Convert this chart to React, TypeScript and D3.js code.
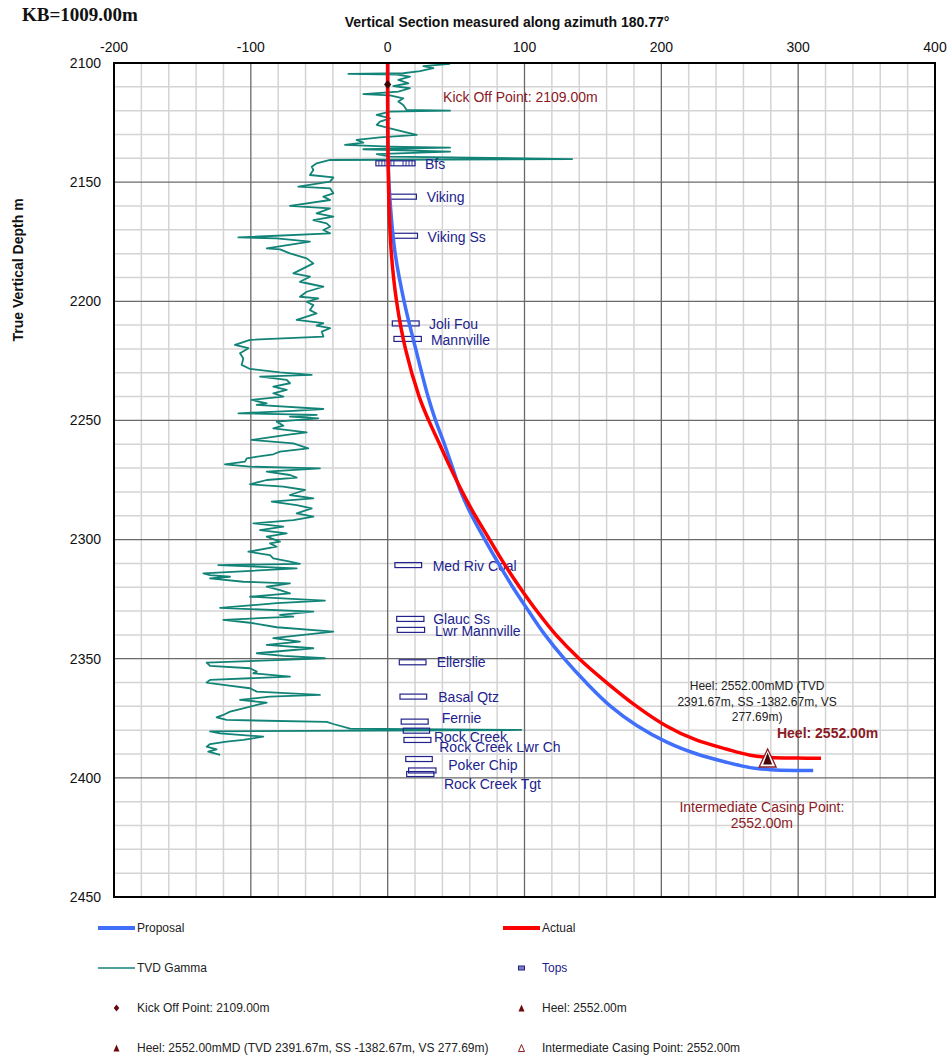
import React from 'react';
import * as d3 from 'd3';

const W = 948;
const H = 1057;

// axis ticks
const vsTicks = [-200, -100, 0, 100, 200, 300, 400];
const tvdTicks = [2100, 2150, 2200, 2250, 2300, 2350, 2400, 2450];

// well paths: [tvd, vs]
const proposalPath: [number, number][] = [
  [2100, 0], [2140, 0.3], [2160, 2], [2180, 5.5], [2200, 12], [2220, 20.5], [2240, 29.5],
  [2250, 35], [2260, 41.5], [2270, 47.5], [2280, 53.5], [2290, 61.5], [2300, 71], [2310, 81],
  [2320, 91.5], [2330, 103], [2340, 115], [2350, 129], [2360, 145], [2370, 163], [2378, 182],
  [2385, 204], [2390, 226], [2393.5, 248], [2395.7, 265], [2396.6, 280], [2396.9, 300], [2396.9, 311],
];
const actualPath: [number, number][] = [
  [2100, 0], [2109, 0], [2140, 0.3], [2160, 1], [2180, 2.7], [2200, 6.5], [2220, 13], [2240, 23],
  [2250, 30], [2260, 38], [2270, 46], [2280, 54.5], [2290, 64], [2300, 74.5], [2310, 85],
  [2320, 96.5], [2330, 109], [2340, 123], [2350, 140], [2360, 160], [2370, 182], [2378, 203],
  [2384, 225], [2388, 248], [2390.5, 265], [2391.5, 280], [2391.7, 300], [2391.8, 316.7],
];

// TVD gamma trace: [tvd, scaled value]
const gammaTrace: [number, number][] = [
  [2100.4, 45.6], [2101.3, 26.1], [2102.2, 33.4], [2103.4, 23.6], [2104.3, 11.4], [2104.6, -28.7],
  [2104.9, 6.6], [2105.7, 16.3], [2107.1, 7.8], [2108.5, 15.1], [2109.7, 4.1], [2110.6, 16.3],
  [2112.0, 7.8], [2113.1, -17.8], [2113.6, 1.7], [2114.8, 11.4], [2116.2, 7.8], [2117.6, 11.4],
  [2119.7, 13.9], [2120.0, 45.6], [2120.4, 1.7], [2121.8, -8.0], [2123.2, 1.7], [2124.6, -5.6],
  [2126.0, -8.0], [2127.4, 1.7], [2128.8, 11.4], [2130.2, 21.2], [2131.2, -5.6], [2132.3, -22.7],
  [2133.4, -17.8], [2134.4, -31.2], [2135.1, 1.7], [2135.5, 45.6], [2136.2, -17.8], [2137.2, 45.6],
  [2138.2, -8.0], [2139.3, 1.7], [2140.3, 134.8], [2140.7, -42.1], [2142.1, -51.9], [2143.5, -55.5],
  [2144.9, -54.3], [2147.0, -56.8], [2148.0, -39.7], [2149.8, -42.1], [2151.9, -65.3], [2152.6, -42.1],
  [2154.7, -39.7], [2156.1, -47.0], [2157.5, -42.1], [2160.0, -71.4], [2161.0, -42.1], [2163.1, -51.9],
  [2164.5, -39.7], [2165.9, -54.3], [2167.3, -44.6], [2168.7, -42.1], [2170.1, -47.0], [2171.5, -42.1],
  [2173.2, -109.1], [2173.6, -81.1], [2175.0, -56.8], [2177.8, -88.4], [2178.2, -78.7], [2179.9, -71.4],
  [2182.0, -59.2], [2184.1, -54.3], [2186.2, -61.6], [2188.3, -68.9], [2189.7, -56.8], [2191.8, -64.1],
  [2193.9, -47.0], [2196.0, -59.2], [2198.1, -64.1], [2198.8, -50.7], [2200.2, -59.2], [2201.6, -54.3],
  [2203.7, -56.8], [2205.1, -51.9], [2207.8, -66.5], [2209.2, -47.0], [2210.2, -51.9], [2211.3, -42.1],
  [2212.7, -48.2], [2214.8, -47.0], [2216.2, -100.6], [2218.3, -111.6], [2219.7, -101.8], [2221.8, -107.9],
  [2224.0, -105.5], [2226.7, -106.7], [2228.4, -100.6], [2229.8, -78.7], [2230.9, -55.5], [2231.6, -93.3],
  [2233.0, -73.8], [2234.4, -71.4], [2235.8, -83.6], [2237.2, -73.8], [2238.6, -83.6], [2240.0, -76.2],
  [2241.4, -99.4], [2242.8, -88.4], [2243.5, -95.7], [2245.2, -47.0], [2246.0, -68.9], [2247.0, -109.1],
  [2247.7, -51.9], [2248.4, -71.4], [2249.1, -50.7], [2250.5, -81.1], [2252.2, -76.2], [2253.3, -83.6],
  [2255.0, -59.2], [2256.1, -73.8], [2258.2, -99.4], [2259.6, -68.9], [2261.7, -58.0], [2263.1, -78.7],
  [2264.2, -83.6], [2265.9, -103.0], [2267.3, -104.3], [2268.4, -118.9], [2269.4, -100.6], [2270.1, -49.5],
  [2271.5, -88.4], [2272.9, -71.4], [2274.0, -66.5], [2275.0, -88.4], [2276.8, -100.6], [2277.8, -76.2],
  [2279.2, -60.4], [2281.3, -71.4], [2282.7, -54.3], [2284.1, -84.8], [2285.5, -66.5], [2286.9, -55.5],
  [2289.0, -66.5], [2290.4, -54.3], [2291.8, -68.9], [2293.2, -98.2], [2294.6, -76.2], [2296.0, -93.3],
  [2297.4, -73.8], [2298.8, -88.4], [2300.9, -78.7], [2301.6, -86.0], [2303.0, -81.1], [2305.1, -101.8],
  [2306.5, -86.0], [2307.9, -83.6], [2309.3, -71.4], [2310.2, -64.1], [2310.7, -123.8], [2312.1, -66.5],
  [2314.2, -134.7], [2314.9, -129.8], [2315.6, -115.2], [2316.3, -129.8], [2317.7, -105.5], [2318.4, -71.4],
  [2319.8, -88.4], [2321.2, -78.7], [2322.6, -71.4], [2324.0, -100.6], [2325.6, -45.8], [2326.7, -81.1],
  [2328.7, -122.5], [2330.2, -54.3], [2331.6, -78.7], [2332.3, -68.9], [2333.7, -120.1], [2334.9, -100.6],
  [2336.8, -81.1], [2338.6, -39.7], [2340.0, -61.6], [2341.4, -83.6], [2342.8, -64.1], [2344.2, -88.4],
  [2345.6, -54.3], [2347.7, -95.7], [2348.8, -76.2], [2349.8, -45.8], [2350.5, -76.2], [2351.6, -132.3],
  [2353.0, -129.8], [2354.0, -100.6], [2355.4, -95.7], [2356.1, -98.2], [2357.5, -71.4], [2358.9, -129.8],
  [2360.0, -132.3], [2361.0, -120.1], [2362.4, -100.6], [2363.8, -95.7], [2365.2, -49.5], [2365.9, -86.0],
  [2367.3, -107.9], [2368.4, -88.4], [2369.4, -95.7], [2370.8, -105.5], [2372.2, -115.2], [2373.6, -120.1],
  [2374.6, -125.0], [2375.7, -117.7], [2376.5, -44.6], [2377.4, -39.7], [2379.3, -27.5], [2379.9, 97.7],
  [2380.5, -129.8], [2381.3, -122.5], [2382.7, -90.9], [2384.1, -105.5], [2384.8, -117.7], [2385.8, -129.8],
  [2386.9, -132.3], [2388.0, -125.0], [2389.0, -131.1], [2390.4, -122.5],
];

// formation tops
const topNames = ['Bfs', 'Viking', 'Viking Ss', 'Joli Fou', 'Mannville', 'Med Riv Coal', 'Glauc Ss',
  'Lwr Mannville', 'Ellerslie', 'Basal Qtz', 'Fernie', 'Rock Creek', 'Rock Creek Lwr Ch', 'Poker Chip',
  '', 'Rock Creek Tgt'];
const topTvd = [2142.1, 2156.1, 2172.5, 2209.3, 2215.8, 2310.7, 2333.3, 2337.9, 2351.5, 2365.9, 2376.4,
  2380.2, 2384.1, 2392.1, 2396.9, 2398.4];
const topVsFrom = [-8.6, 1.2, 1.7, 3.4, 4.6, 5.3, 6.6, 7.0, 8.5, 9.0, 9.9, 11.4, 11.9, 13.2, 15.3, 13.9];
const topVsTo = [20, 21, 21.8, 23, 24.6, 24.8, 26.5, 27, 28, 28.5, 29.6, 30.6, 31.6, 32.6, 35.3, 33.8];
const topLabelVs = [27.3, 28.5, 29.2, 30.2, 31.6, 32.9, 33.3, 34.6, 35.8, 37.0, 39.5, 33.8, 37.7, 44.3, 0, 41.1];
const topLabelTvd = [2142.4, 2156.2, 2173.0, 2209.5, 2216.2, 2311.1, 2333.3, 2338.4, 2351.4, 2366.1, 2374.9,
  2382.9, 2387.1, 2394.6, 0, 2402.6];

const kickOff = { tvd: 2109, vs: 0, label: 'Kick Off Point: 2109.00m' };
const heel = { tvd: 2391.67, vs: 277.69 };
const heelNote = ['Heel: 2552.00mMD (TVD', '2391.67m, SS -1382.67m, VS', '277.69m)'];
const casingNote = ['Intermediate Casing Point:', '2552.00m'];

const legendLabels = ['Proposal', 'Actual', 'TVD Gamma', 'Tops', 'Kick Off Point: 2109.00m', 'Heel: 2552.00m',
  'Heel: 2552.00mMD (TVD 2391.67m, SS -1382.67m, VS 277.69m)', 'Intermediate Casing Point: 2552.00m'];
const legendKinds = ['proposal', 'actual', 'gamma', 'tops', 'kickoff', 'heel', 'heelmd', 'casing'];

const RED = '#ff0000';
const BLUE = '#3f6ffb';
const TEAL = '#128377';
const NAVY = '#22228c';
const DARKRED = '#8b1a24';
const FONT = '"Liberation Sans", Arial, sans-serif';

const tri = (cx: number, cy: number, w: number, h: number) =>
  `M${cx},${cy - h / 2}L${cx + w / 2},${cy + h / 2}L${cx - w / 2},${cy + h / 2}Z`;
const diamond = (cx: number, cy: number, r: number) =>
  `M${cx},${cy - r}L${cx + r * 0.8},${cy}L${cx},${cy + r}L${cx - r * 0.8},${cy}Z`;

export default function App() {
  const x = d3.scaleLinear().domain([-200, 400]).range([114, 935]);
  const y = d3.scaleLinear().domain([2100, 2450]).range([63, 897]);

  const wellLine = d3.line<[number, number]>()
    .x(d => x(d[1]))
    .y(d => y(d[0]))
    .curve(d3.curveCatmullRom.alpha(0.5));
  const gammaLine = d3.line<[number, number]>()
    .x(d => x(d[1]))
    .y(d => y(d[0]));

  const minorX = d3.range(-200, 401, 20).filter(v => v % 100 !== 0);
  const minorY = d3.range(2100, 2451, 10).filter(v => v % 50 !== 0);

  const [x0, x1] = x.range();
  const [y0, y1] = y.range();

  const hx = x(heel.vs);
  const hy = y(heel.tvd);

  const legendRows = [928, 968, 1008, 1048];
  const legendCols = [98, 503];

  const legendMark = (kind: string, lx: number, ly: number) => {
    switch (kind) {
      case 'proposal':
        return <line x1={lx} x2={lx + 37} y1={ly} y2={ly} stroke={BLUE} strokeWidth={4} />;
      case 'actual':
        return <line x1={lx} x2={lx + 37} y1={ly} y2={ly} stroke={RED} strokeWidth={4} />;
      case 'gamma':
        return <line x1={lx} x2={lx + 37} y1={ly} y2={ly} stroke={TEAL} strokeWidth={1.6} />;
      case 'tops':
        return <rect x={lx + 15.5} y={ly - 2} width={6} height={4} fill="#8080c0" stroke={NAVY} strokeWidth={1} />;
      case 'kickoff':
        return <path d={diamond(lx + 18.5, ly, 3.5)} fill="#6a0a0a" />;
      case 'heel':
      case 'heelmd':
        return <path d={tri(lx + 18.5, ly, 6, 7)} fill="#6a0a0a" />;
      default:
        return <path d={tri(lx + 18.5, ly, 6, 7)} fill="none" stroke={DARKRED} strokeWidth={1} />;
    }
  };

  return (
    <svg width={W} height={H} style={{ position: 'absolute', left: 0, top: 0, background: '#fff' }}
      fontFamily={FONT}>
      <rect x={0} y={0} width={W} height={H} fill="#fff" />

      {/* grid */}
      <g>
        {minorX.map(v => (
          <line key={'mx' + v} x1={x(v)} x2={x(v)} y1={y0} y2={y1} stroke="#d4d4d4" strokeWidth={1.5} />
        ))}
        {minorY.map(v => (
          <line key={'my' + v} x1={x0} x2={x1} y1={y(v)} y2={y(v)} stroke="#d4d4d4" strokeWidth={1.5} />
        ))}
        {vsTicks.map(v => (
          <line key={'Mx' + v} x1={x(v)} x2={x(v)} y1={y0} y2={y1} stroke="#6a6a6a" strokeWidth={1.3} />
        ))}
        {tvdTicks.map(v => (
          <line key={'My' + v} x1={x0} x2={x1} y1={y(v)} y2={y(v)} stroke="#6a6a6a" strokeWidth={1.3} />
        ))}
      </g>

      {/* gamma log */}
      <path d={gammaLine(gammaTrace) || ''} fill="none" stroke={TEAL} strokeWidth={1.8} strokeLinejoin="round" />

      {/* formation tops */}
      <g>
        {topNames.map((name, i) => {
          const rx = x(topVsFrom[i]);
          const rw = x(topVsTo[i]) - rx;
          const ry = y(topTvd[i]);
          return (
            <g key={'top' + i}>
              <rect x={rx} y={ry - 2.5} width={rw} height={5} fill="none" stroke={NAVY} strokeWidth={1.2} />
              {i === 0 && d3.range(0, 6).map(k => (
                <line key={'h' + k} x1={rx + 3 + k * 3} x2={rx + 3 + k * 3} y1={ry - 2.5} y2={ry + 2.5}
                  stroke={NAVY} strokeWidth={0.9} />
              ))}
              {i === 0 && d3.range(0, 4).map(k => (
                <line key={'g' + k} x1={rx + rw - 3 - k * 3} x2={rx + rw - 3 - k * 3} y1={ry - 2.5} y2={ry + 2.5}
                  stroke={NAVY} strokeWidth={0.9} />
              ))}
              {name && (
                <text x={x(topLabelVs[i])} y={y(topLabelTvd[i])} dy="0.35em" fontSize={14} fill={NAVY}>{name}</text>
              )}
            </g>
          );
        })}
      </g>

      {/* well paths */}
      <path d={wellLine(proposalPath) || ''} fill="none" stroke={BLUE} strokeWidth={3.5} />
      <path d={wellLine(actualPath) || ''} fill="none" stroke={RED} strokeWidth={3.5} />

      {/* kick off */}
      <path d={diamond(x(kickOff.vs), y(kickOff.tvd), 4.5)} fill="#3a0505" />
      <text x={x(40.5)} y={y(2114.3)} dy="0.35em" fontSize={14} fill={DARKRED}>{kickOff.label}</text>

      {/* heel */}
      <path d={tri(hx, hy, 17, 18)} fill="#fff" stroke={DARKRED} strokeWidth={1.3} />
      <path d={tri(hx, hy + 0.5, 9, 12)} fill="#4a0505" />
      {heelNote.map((t, i) => (
        <text key={'hn' + i} x={x(270)} y={y(2361.4) + i * 15.5} dy="0.35em" fontSize={12} fill="#222"
          textAnchor="middle">{t}</text>
      ))}
      <text x={x(284.5)} y={y(2381.2)} dy="0.35em" fontSize={14} fontWeight="bold" fill={DARKRED}>Heel: 2552.00m</text>
      {casingNote.map((t, i) => (
        <text key={'cn' + i} x={x(273.5)} y={y(2412.2) + i * 16} dy="0.35em" fontSize={14} fill={DARKRED}
          textAnchor="middle">{t}</text>
      ))}

      {/* frame */}
      <rect x={x0} y={y0} width={x1 - x0} height={y1 - y0} fill="none" stroke="#000" strokeWidth={2} />

      {/* axes labels */}
      {vsTicks.map(v => (
        <text key={'tx' + v} x={x(v)} y={52} fontSize={14} textAnchor="middle" fill="#111">{v}</text>
      ))}
      {tvdTicks.map(v => (
        <text key={'ty' + v} x={101} y={y(v)} dy="0.35em" fontSize={14} textAnchor="end" fill="#111">{v}</text>
      ))}
      <text x={507} y={27} fontSize={14} fontWeight="bold" textAnchor="middle" fill="#111">
        Vertical Section measured along azimuth 180.77°
      </text>
      <text transform="translate(23,270) rotate(-90)" fontSize={14} fontWeight="bold" textAnchor="middle" fill="#111">
        True Vertical Depth m
      </text>
      <text x={22} y={21} fontSize={19} fontWeight="bold" fontFamily='"Liberation Serif", "Times New Roman", serif'
        fill="#111">KB=1009.00m</text>

      {/* legend */}
      {legendLabels.map((label, i) => {
        const lx = legendCols[i % 2];
        const ly = legendRows[Math.floor(i / 2)];
        return (
          <g key={'lg' + i}>
            {legendMark(legendKinds[i], lx, ly)}
            <text x={lx + 39} y={ly} dy="0.35em" fontSize={12} fill={legendKinds[i] === 'tops' ? NAVY : '#222'}>
              {label}
            </text>
          </g>
        );
      })}
    </svg>
  );
}
